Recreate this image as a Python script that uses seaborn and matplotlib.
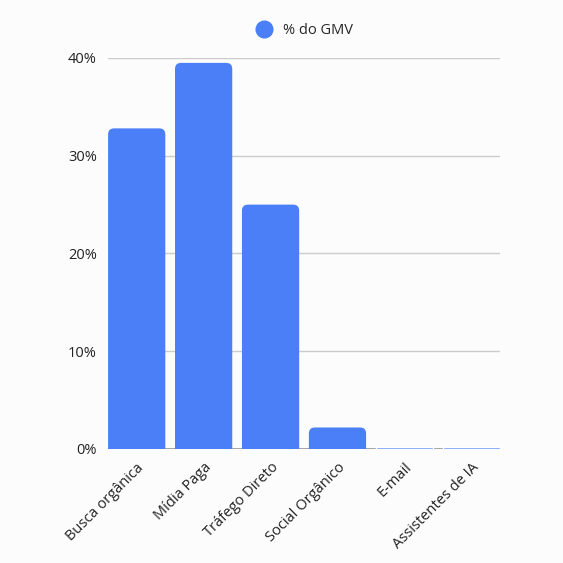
import matplotlib
matplotlib.use("Agg")
import matplotlib.pyplot as plt
import seaborn as sns
import pandas as pd
from matplotlib.patches import FancyBboxPatch
from matplotlib.lines import Line2D

canais = ["Busca orgânica", "Mídia Paga", "Tráfego Direto",
          "Social Orgânico", "E-mail", "Assistentes de IA"]
gmv_pct = [32.8, 39.5, 25.0, 2.2, 0.2, 0.25]
y_ticks = [0, 10, 20, 30, 40]
y_labels = ["0%", "10%", "20%", "30%", "40%"]

COR = "#4a7ff7"

sns.set_style("white")
plt.rcParams["font.family"] = ["Open Sans", "DejaVu Sans"]

df = pd.DataFrame({"canal": canais, "gmv": gmv_pct})

fig = plt.figure(figsize=(5.63, 5.63), dpi=100, facecolor="#fcfcfc")
ax = fig.add_axes([0.192, 0.2025, 0.696, 0.6945])
ax.set_facecolor("#fcfcfc")

sns.barplot(data=df, x="canal", y="gmv", color=COR, width=0.855,
            saturation=1, ax=ax, zorder=3)

ax.set_ylim(0, 40)
ax.set_xlim(-0.5 + 0.0725, 5.5 - 0.0725)

# cantos arredondados no topo
r_x = 0.09
aspect = (40 / (0.6945 * 563)) / (5.855 / (0.696 * 563))
for p in list(ax.patches):
    x, w, h = p.get_x(), p.get_width(), p.get_height()
    if h < 1.5:
        continue
    rr = FancyBboxPatch((x, -2), w, h + 2,
                        boxstyle=f"round,pad=0,rounding_size={r_x}",
                        mutation_aspect=aspect, facecolor=COR,
                        edgecolor="none", zorder=3, clip_on=True)
    p.remove()
    ax.add_patch(rr)

ax.set_yticks(y_ticks)
ax.set_yticklabels(y_labels, fontsize=10.5, color="#222222")
ax.grid(axis="y", color="#cccccc", linewidth=1, zorder=0)
ax.axhline(0, color="#999999", linewidth=1.2, zorder=2)
for s in ax.spines.values():
    s.set_visible(False)
ax.tick_params(axis="both", length=0, pad=8)
ax.set_xticks(range(len(canais)))
ax.set_xticklabels(canais, rotation=45, ha="right", rotation_mode="anchor",
                   fontsize=10.5, color="#222222")
ax.set_xlabel("")
ax.set_ylabel("")

handle = Line2D([], [], marker="o", linestyle="none", markersize=12,
                markerfacecolor=COR, markeredgecolor=COR)
fig.legend([handle], ["% do GMV"], loc="center", bbox_to_anchor=(0.535, 0.946),
           frameon=False, fontsize=10.5, handletextpad=0.3)

fig.savefig("out.png", dpi=100, facecolor=fig.get_facecolor())
